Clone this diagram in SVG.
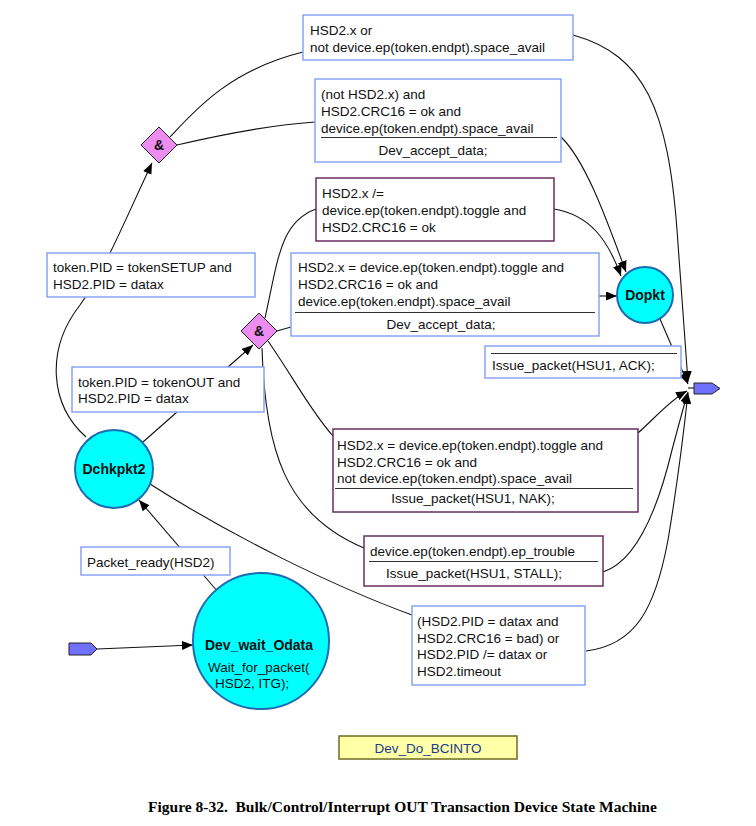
<svg xmlns="http://www.w3.org/2000/svg" width="756" height="826" viewBox="0 0 756 826">
<style>
text{font-family:"Liberation Sans",Arial,sans-serif;font-size:13.5px;fill:#111}
.bb{fill:#fff;stroke:#88a4f4;stroke-width:1.5}
.pb{fill:#fff;stroke:#6a2c62;stroke-width:1.5}
.div{stroke:#333;stroke-width:1.2}
.st{fill:#00ffff;stroke:#1d6bb0;stroke-width:2}
.sn{font-weight:bold;font-size:14px}
.dm{fill:#ec8cf0;stroke:#222;stroke-width:1}
.pt{fill:#7070ff;stroke:#222;stroke-width:1}
.c{fill:none;stroke:#111;stroke-width:1.1}
.cap{font-family:"Liberation Serif","Times New Roman",serif;font-weight:bold;font-size:15.5px;fill:#000}
</style>
<defs>
<marker id="ah" markerUnits="userSpaceOnUse" markerWidth="11" markerHeight="9" refX="11" refY="4.5" orient="auto">
<path d="M0,0 L11,4.5 L0,9 z" fill="#000"/>
</marker>
</defs>
<g id="connectors">
<path class="c" d="M97,649 L193,645" marker-end="url(#ah)"/>
<path class="c" d="M218,592 L139,500" marker-end="url(#ah)"/>
<path class="c" d="M86,437 C50,405 45,350 80,305 C105,270 125,220 152,163" marker-end="url(#ah)"/>
<path class="c" d="M143,442 L253,345" marker-end="url(#ah)"/>
<path class="c" d="M170,137 C195,110 230,70 303,52"/>
<path class="c" d="M177,145 C220,135 270,125 315,122"/>
<path class="c" d="M573,35 C645,55 668,110 677,230 C682,300 686,350 688,382" marker-end="url(#ah)"/>
<path class="c" d="M561,137 C585,160 605,215 626,272" marker-end="url(#ah)"/>
<path class="c" d="M265,318 C278,260 280,222 316,209"/>
<path class="c" d="M554,209 C590,215 608,240 621,276" marker-end="url(#ah)"/>
<path class="c" d="M277,331 L291,327"/>
<path class="c" d="M599,296 L617,296" marker-end="url(#ah)"/>
<path class="c" d="M660,319 L688,384" marker-end="url(#ah)"/>
<path class="c" d="M268,341 C295,380 310,410 333,436"/>
<path class="c" d="M638,433 C655,418 670,400 687,391" marker-end="url(#ah)"/>
<path class="c" d="M262,348 C265,450 285,515 364,548"/>
<path class="c" d="M603,572 C640,560 660,500 672,450 C680,420 684,405 688,392" marker-end="url(#ah)"/>
<path class="c" d="M150,484 C230,535 330,585 412,615"/>
<path class="c" d="M586,651 C635,645 655,610 668,540 C678,480 684,430 688,393" marker-end="url(#ah)"/>
<path class="c" d="M688,388 L694,388"/>
</g>
<g id="entry"><path class="pt" d="M69,643 L91,643 L97,649 L91,655 L69,655 z"/></g>
<g id="exit"><path class="pt" d="M694,383 L712,383 L720,388.5 L712,394 L694,394 z"/></g>
<g id="and1"><path class="dm" d="M159,127 L177,145 L159,163 L141,145 z"/><text x="159" y="150" text-anchor="middle" style="font-weight:bold;font-size:14px">&amp;</text></g>
<g id="and2"><path class="dm" d="M259,313 L277,331 L259,349 L241,331 z"/><text x="259" y="336" text-anchor="middle" style="font-weight:bold;font-size:14px">&amp;</text></g>
<g id="Dchkpkt2"><circle class="st" cx="114" cy="469" r="39"/><text class="sn" x="114" y="474" text-anchor="middle">Dchkpkt2</text></g>
<g id="Dopkt"><circle class="st" cx="645" cy="295" r="28"/><text class="sn" x="645" y="300" text-anchor="middle">Dopkt</text></g>
<g id="Dev_wait_Odata"><circle class="st" cx="261" cy="641" r="68"/><text class="sn" x="259" y="650" text-anchor="middle">Dev_wait_Odata</text><text x="208" y="672">Wait_for_packet(</text><text x="215" y="688">HSD2, ITG);</text></g>
<g id="lbl_space">
<rect class="bb" x="303" y="15" width="270" height="45"/>
<text x="310" y="35">HSD2.x or</text>
<text x="310" y="52">not device.ep(token.endpt).space_avail</text>
</g>
<g id="lbl_accept1">
<rect class="bb" x="315" y="79" width="246" height="83"/>
<text x="321" y="99">(not HSD2.x) and</text>
<text x="321" y="116">HSD2.CRC16 = ok and</text>
<text x="321" y="133">device.ep(token.endpt).space_avail</text>
<line class="div" x1="321" y1="137.5" x2="557" y2="137.5"/>
<text x="433" y="155" text-anchor="middle">Dev_accept_data;</text>
</g>
<g id="lbl_toggle_ne">
<rect class="pb" x="316" y="178" width="238" height="63"/>
<text x="322" y="198">HSD2.x /=</text>
<text x="322" y="215">device.ep(token.endpt).toggle and</text>
<text x="322" y="232">HSD2.CRC16 = ok</text>
</g>
<g id="lbl_accept2">
<rect class="bb" x="291" y="253" width="308" height="83"/>
<text x="298" y="272">HSD2.x = device.ep(token.endpt).toggle and</text>
<text x="298" y="289">HSD2.CRC16 = ok and</text>
<text x="298" y="306">device.ep(token.endpt).space_avail</text>
<line class="div" x1="295" y1="312.5" x2="595" y2="312.5"/>
<text x="441" y="329" text-anchor="middle">Dev_accept_data;</text>
</g>
<g id="lbl_ack">
<rect class="bb" x="485" y="346" width="196" height="32"/>
<line class="div" x1="491" y1="353.5" x2="677" y2="353.5"/>
<text x="492" y="370">Issue_packet(HSU1, ACK);</text>
</g>
<g id="lbl_nak">
<rect class="pb" x="333" y="429" width="305" height="83"/>
<text x="337" y="450">HSD2.x = device.ep(token.endpt).toggle and</text>
<text x="337" y="467">HSD2.CRC16 = ok and</text>
<text x="337" y="483">not device.ep(token.endpt).space_avail</text>
<line class="div" x1="335" y1="488.5" x2="633" y2="488.5"/>
<text x="473" y="503" text-anchor="middle">Issue_packet(HSU1, NAK);</text>
</g>
<g id="lbl_stall">
<rect class="pb" x="364" y="536" width="239" height="50"/>
<text x="370" y="556">device.ep(token.endpt).ep_trouble</text>
<line class="div" x1="369" y1="561.5" x2="598" y2="561.5"/>
<text x="474" y="578" text-anchor="middle">Issue_packet(HSU1, STALL);</text>
</g>
<g id="lbl_bad">
<rect class="bb" x="412" y="606" width="173" height="79"/>
<text x="417" y="626">(HSD2.PID = datax and</text>
<text x="417" y="643">HSD2.CRC16 = bad) or</text>
<text x="417" y="659">HSD2.PID /= datax or</text>
<text x="417" y="676">HSD2.timeout</text>
</g>
<g id="lbl_setup">
<rect class="bb" x="47" y="253" width="208" height="44"/>
<text x="53" y="272">token.PID = tokenSETUP and</text>
<text x="53" y="289">HSD2.PID = datax</text>
</g>
<g id="lbl_out">
<rect class="bb" x="72" y="367" width="192" height="45"/>
<text x="78" y="387">token.PID = tokenOUT and</text>
<text x="78" y="403">HSD2.PID = datax</text>
</g>
<g id="lbl_ready">
<rect class="bb" x="81" y="547" width="149" height="28"/>
<text x="87" y="567">Packet_ready(HSD2)</text>
</g>
<g id="title_box">
<rect x="339" y="736" width="178" height="23" fill="#ffffa8" stroke="#6b6b20" stroke-width="1.5"/>
<text x="428" y="753" text-anchor="middle" style="fill:#1a3c8c">Dev_Do_BCINTO</text>
</g>
<text class="cap" x="148" y="812" xml:space="preserve">Figure 8-32.  Bulk/Control/Interrupt OUT Transaction Device State Machine</text>
</svg>
